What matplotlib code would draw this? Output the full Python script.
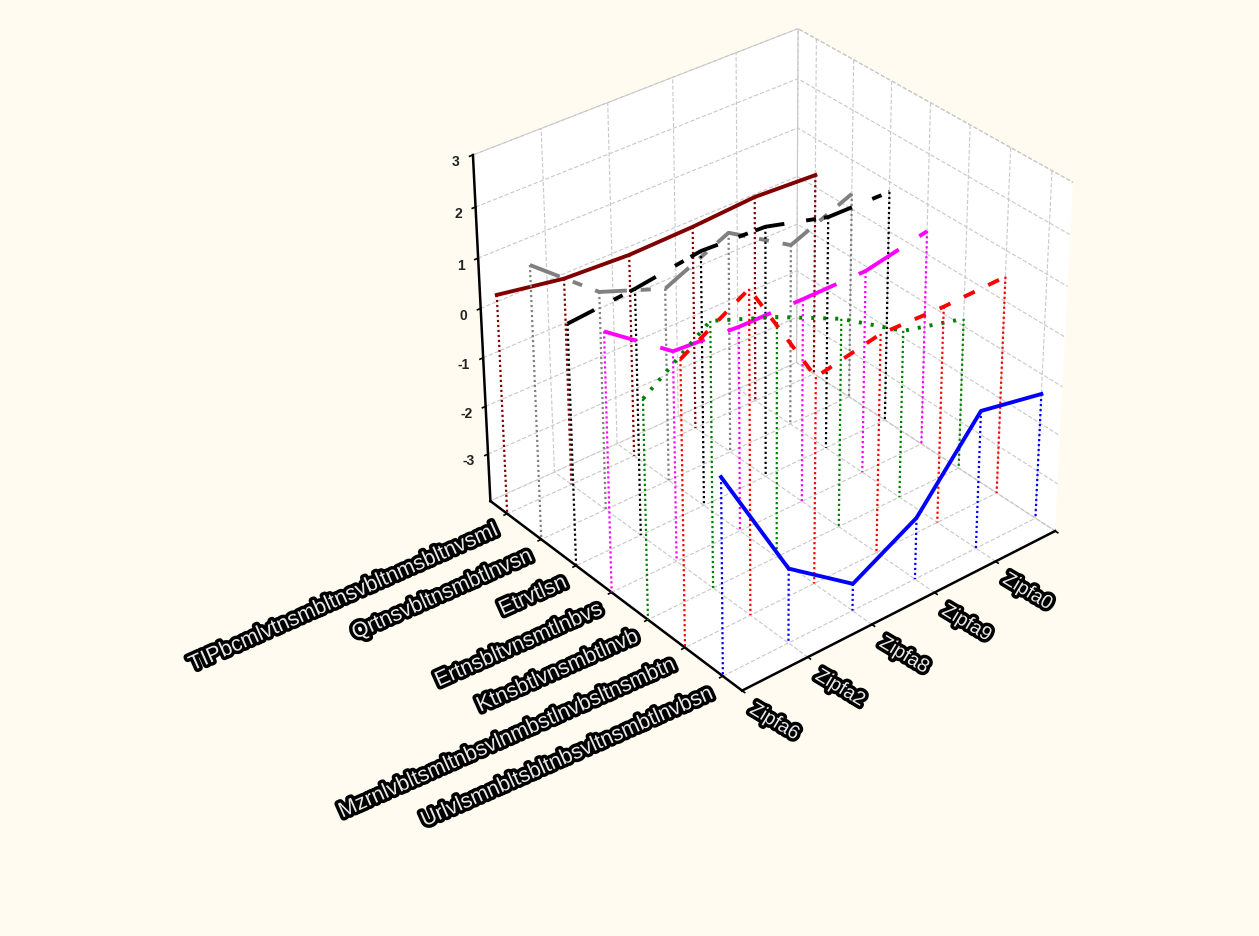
import numpy as np
import matplotlib
matplotlib.use("Agg")
import matplotlib.pyplot as plt
import matplotlib.patheffects as pe

x_vals = [1, 2, 3, 4, 5, 6]
x_labels = ["Zipfa6", "Zipfa2", "Zipfa8", "Zipfa9", "Zipfa0", ""]
y_labels = ["Urlvlsmnbltsbltnbsvltnsmbtlnvbsn", "Mzrnlvbltsmltnbsvlnmbstlnvbsltnsmbtn",
            "Ktnsbtlvnsmbtlnvb", "Ertnsbltvnsmtlnbvs", "Etrvtlsn", "Qrtnsvbltnsmbtlnvsn",
            "TIPbcmlvtnsmbltnsvbltnmsbltnvsmI"]
z_ticks = [-3, -2, -1, 0, 1, 2, 3]
z_labels = ["-3", "-2", "-1", "0", "1", "2", "3"]

blue = [-0.02, -2.47, -3.44, -2.72, -1.15, -1.40]
red = [1.71, 2.46, 0.20, 0.47, 0.44, 0.48]
green = [0.45, 1.37, 0.88, 0.28, -0.53, -0.85]
magenta = [1.25, 0.29, 0.20, 0.19, 0.20, 0.46]
black = [0.91, 1.03, 1.22, 1.16, 0.82, 0.80]
gray = [1.57, 0.49, 0.00, 0.58, -0.21, 0.31]
darkred = [0.51, 0.28, 0.21, 0.24, 0.32, 0.25]

series = [blue, red, green, magenta, black, gray, darkred]
colors = ['#0000ff', '#ff0000', '#008000', '#ff00ff', '#000000', '#808080', '#800000']
px = 0.72  # points per pixel at dpi 100
styles = [
    '-',
    (0, (12 * px, 15 * px)),
    (0, (3 * px, 9 * px)),
    (13 * px, (47 * px, 24.5 * px)),
    (0, (30 * px, 22 * px, 10 * px, 8 * px)),
    (0, (32 * px, 14 * px, 10 * px, 14 * px)),
    '-',
]

plt.rcParams['font.family'] = ['Liberation Sans', 'DejaVu Sans']
plt.rcParams['lines.scale_dashes'] = False
plt.rcParams['grid.color'] = '#c8c8c8'
plt.rcParams['grid.linestyle'] = (0, (3, 1.5))
plt.rcParams['grid.linewidth'] = 0.8

bg = '#fffbf0'
fig = plt.figure(figsize=(12.59, 9.37), dpi=100, facecolor=bg)
ax = fig.add_axes([128.92 / 1259, 107.28 / 937, 1, 1], projection='3d', computed_zorder=False)
ax.set_facecolor(bg)
ax.set_proj_type('persp', focal_length=np.exp(-0.32387))
ax.view_init(32.687, -129.638)
ax.set_box_aspect((1.00416, 0.99981, 1), zoom=0.74089)

for row in range(len(series)):
    y = row + 1
    z = series[row]
    order = 10 * (len(series) - row)
    for i in range(len(x_vals)):
        ax.plot([x_vals[i], x_vals[i]], [y, y], [z[i], -4], color=colors[row], lw=1.6,
                linestyle=(0, (2.2 * px, 2.8 * px)), zorder=order)
    ax.plot(x_vals, [y] * len(x_vals), z, color=colors[row], lw=2.8,
            linestyle=styles[row], zorder=order + 1, dash_capstyle='butt')

ax.set_xlim(1, 6, view_margin=0)
ax.set_ylim(0.5, 7.5, view_margin=0)
ax.set_zlim(-4, 3, view_margin=0)
ax.set_xticks(x_vals, labels=x_labels)
ax.set_yticks(range(1, 8), labels=y_labels)
ax.set_zticks(z_ticks, labels=z_labels)
ax.tick_params(axis='z', pad=0)

for axis in (ax.xaxis, ax.yaxis, ax.zaxis):
    axis.pane.set_facecolor('white')
    axis.pane.set_alpha(1)
    axis.pane.set_edgecolor('#c8c8c8')
    axis.pane.set_linestyle((0, (3, 1.5)))
    axis.pane.set_linewidth(0.8)
    axis.line.set_color('black')
    axis.line.set_linewidth(1.8)
    axis._axinfo['tick'].update({'inward_factor': 0.12, 'outward_factor': 0.0,
                                 'linewidth': {True: 1.2, False: 0.5}})

halo = [pe.withStroke(linewidth=5, foreground='black')]
for t in ax.get_xticklabels():
    t.set(rotation=-31, ha='left', va='center', rotation_mode='anchor', fontsize=14,
          color='#e8e8e8', path_effects=halo)
for t in ax.get_yticklabels():
    t.set(rotation=24, ha='right', va='center', rotation_mode='anchor', fontsize=15.5,
          color='#e8e8e8', path_effects=halo)
for t in ax.get_zticklabels():
    t.set(ha='right', va='top', fontsize=10, color='#222222', fontweight='bold')

fig.savefig('out.png', dpi=100, facecolor=bg)
